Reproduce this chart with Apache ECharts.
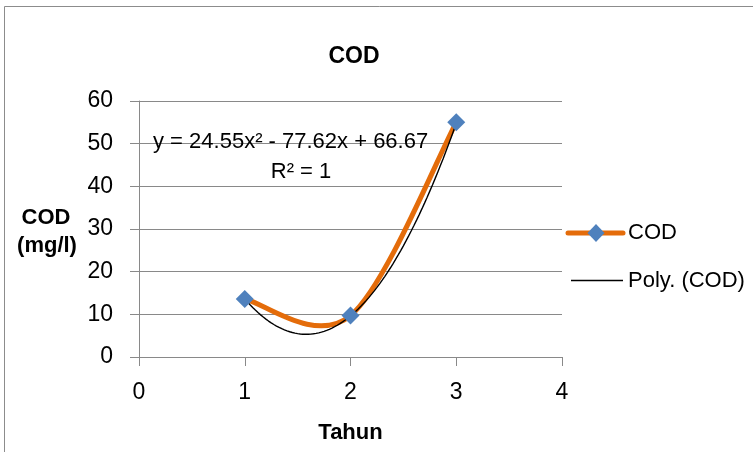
<!DOCTYPE html>
<html>
<head>
<meta charset="utf-8">
<script src="https://cdn.jsdelivr.net/npm/echarts@6/dist/echarts.min.js"></script>
<style>
  html, body { margin: 0; padding: 0; background: #fff; }
  #chart { width: 753px; height: 452px; }
</style>
</head>
<body>
<div id="chart"></div>
<script>
// COD by year
const years = [1, 2, 3];
const codValues = [13.6, 9.7, 55];
// Second-order polynomial trendline (coefficients a, b, c for ax^2 + bx + c)
const polyCoef = [24.55, -77.62, 66.67];
const xTicks = [0, 1, 2, 3, 4];
const yTicks = [0, 10, 20, 30, 40, 50, 60];

const FONT = '"Liberation Sans", "DejaVu Sans", sans-serif';
const ORANGE = '#E46C0A';
const BLUE = '#4F81BD';
const AXIS_GRAY = '#898989';

// Trendline sampled across the data range
const trend = [];
for (let i = 0; i <= 80; i++) {
  const x = years[0] + (years[years.length - 1] - years[0]) * i / 80;
  trend.push([x, polyCoef[0] * x * x + polyCoef[1] * x + polyCoef[2]]);
}

const points = years.map((x, i) => [x, codValues[i]]);

// Smoothed segment between point i and i+1 (cardinal spline, 1/6 tangent factor)
function smoothSegment(params, api) {
  const i = params.dataIndex;
  const n = points.length;
  if (i >= n - 1) return null;
  const at = k => api.coord(points[Math.max(0, Math.min(n - 1, k))]);
  const p0 = at(i - 1), p1 = at(i), p2 = at(i + 1), p3 = at(i + 2);
  return {
    type: 'bezierCurve',
    shape: {
      x1: p1[0], y1: p1[1], x2: p2[0], y2: p2[1],
      cpx1: p1[0] + (p2[0] - p0[0]) / 6, cpy1: p1[1] + (p2[1] - p0[1]) / 6,
      cpx2: p2[0] - (p3[0] - p1[0]) / 6, cpy2: p2[1] - (p3[1] - p1[1]) / 6
    },
    style: { stroke: ORANGE, lineWidth: 5, fill: null, lineCap: 'round' }
  };
}

const chart = echarts.init(document.getElementById('chart'));
chart.setOption({
  animation: false,
  backgroundColor: '#fff',
  title: {
    text: 'COD',
    left: 349, top: 40, textAlign: 'center',
    textStyle: { fontFamily: FONT, fontSize: 23, fontWeight: 'bold', color: '#000' }
  },
  grid: { left: 139, right: 191, top: 101, bottom: 95 },
  xAxis: {
    type: 'value',
    min: xTicks[0], max: xTicks[xTicks.length - 1], interval: 1,
    name: 'Tahun', nameLocation: 'middle', nameGap: 65,
    nameTextStyle: { fontFamily: FONT, fontSize: 22, fontWeight: 'bold', color: '#000' },
    axisLine: { show: true, lineStyle: { color: AXIS_GRAY, width: 1 } },
    axisTick: { show: true, length: 9, lineStyle: { color: AXIS_GRAY } },
    axisLabel: { fontFamily: FONT, fontSize: 23, color: '#000', margin: 24 },
    splitLine: { show: false }
  },
  yAxis: {
    type: 'value',
    min: yTicks[0], max: yTicks[yTicks.length - 1], interval: 10,
    axisLine: { show: true, lineStyle: { color: AXIS_GRAY, width: 1 } },
    axisTick: { show: true, length: 9, lineStyle: { color: AXIS_GRAY } },
    axisLabel: { fontFamily: FONT, fontSize: 23, color: '#000', margin: 26 },
    splitLine: { show: true, lineStyle: { color: AXIS_GRAY, width: 1 } }
  },
  series: [
    {
      name: 'COD',
      type: 'custom',
      data: points,
      encode: { x: 0, y: 1 },
      renderItem: smoothSegment,
      z: 2
    },
    {
      name: 'Poly. (COD)',
      type: 'line',
      data: trend,
      showSymbol: false,
      symbol: 'none',
      lineStyle: { color: '#000', width: 1.4 },
      z: 3
    },
    {
      name: 'COD markers',
      type: 'scatter',
      data: points,
      symbol: 'diamond',
      symbolSize: [18, 18],
      itemStyle: { color: BLUE, opacity: 1 },
      z: 4
    }
  ],
  graphic: [
    {
      type: 'rect', silent: true, z: -10,
      shape: { x: 4.5, y: 6.5, width: 760, height: 460 },
      style: { fill: 'none', stroke: '#8c8c8c', lineWidth: 1 }
    },
    // trendline equation
    {
      type: 'text', x: 153, y: 142, z: 10,
      style: { text: 'y = 24.55x² - 77.62x + 66.67', fontFamily: FONT, fontSize: 22, fill: '#000',
               verticalAlign: 'middle' }
    },
    {
      type: 'text', x: 301, y: 172, z: 10,
      style: { text: 'R² = 1', fontFamily: FONT, fontSize: 22, fill: '#000',
               align: 'center', verticalAlign: 'middle' }
    },
    // y-axis title
    {
      type: 'text', x: 46, y: 218, z: 10,
      style: { text: 'COD', fontFamily: FONT, fontSize: 22, fontWeight: 'bold', fill: '#000',
               align: 'center', verticalAlign: 'middle' }
    },
    {
      type: 'text', x: 47, y: 246, z: 10,
      style: { text: '(mg/l)', fontFamily: FONT, fontSize: 22, fontWeight: 'bold', fill: '#000',
               align: 'center', verticalAlign: 'middle' }
    },
    // legend
    {
      type: 'line', z: 10,
      shape: { x1: 568, y1: 233, x2: 623, y2: 233 },
      style: { stroke: ORANGE, lineWidth: 5, lineCap: 'round' }
    },
    {
      type: 'polygon', z: 11,
      shape: { points: [[596, 224], [604.5, 233], [596, 242], [587.5, 233]] },
      style: { fill: BLUE }
    },
    {
      type: 'text', x: 628, y: 233, z: 10,
      style: { text: 'COD', fontFamily: FONT, fontSize: 22, fill: '#000', verticalAlign: 'middle' }
    },
    {
      type: 'line', z: 10,
      shape: { x1: 571, y1: 280.5, x2: 623, y2: 280.5 },
      style: { stroke: '#000', lineWidth: 1.4 }
    },
    {
      type: 'text', x: 628, y: 281, z: 10,
      style: { text: 'Poly. (COD)', fontFamily: FONT, fontSize: 22, fill: '#000', verticalAlign: 'middle' }
    }
  ]
});
</script>
</body>
</html>
